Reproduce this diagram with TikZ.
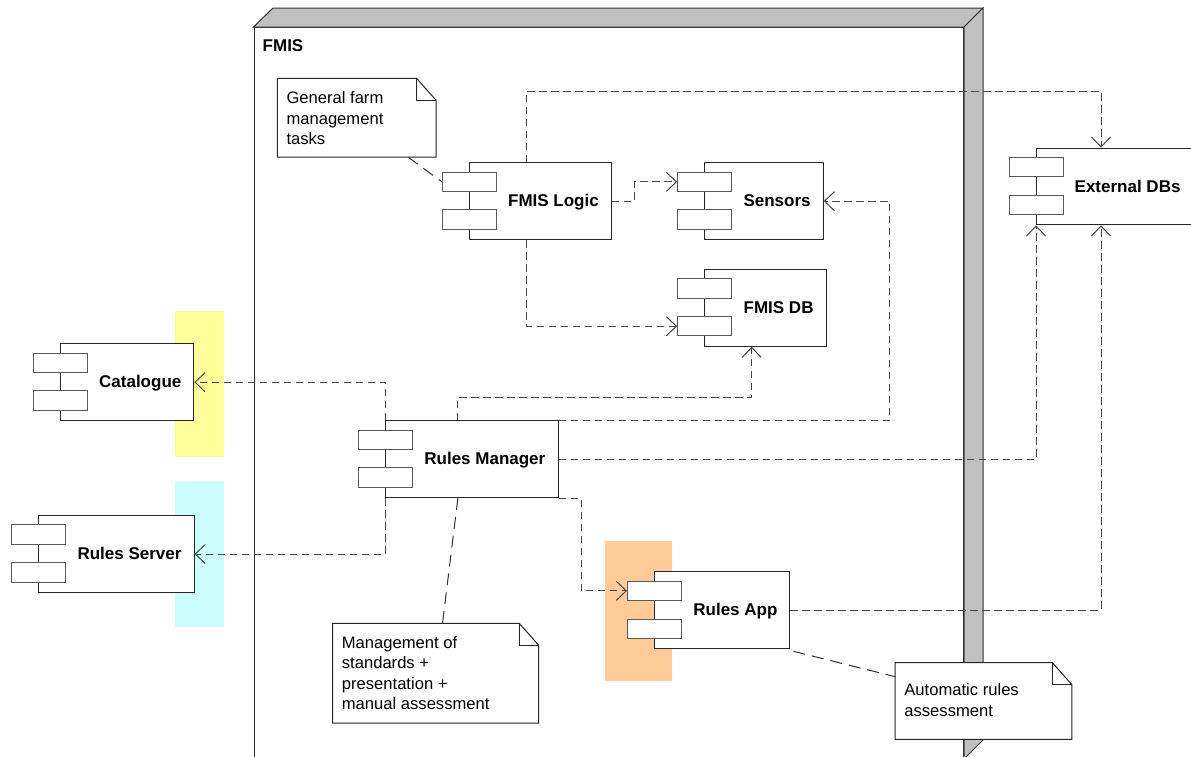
\documentclass[tikz,border=0pt]{standalone}
\usepackage{fontspec}
\setmainfont{Liberation Sans}
\usetikzlibrary{arrows.meta,calc}
\definecolor{cyel}{HTML}{FFFF99}
\definecolor{ccyan}{HTML}{CCFFFF}
\definecolor{corange}{HTML}{FFCC99}
\definecolor{cgrey}{HTML}{C0C0C0}
\newcommand{\umlcomp}[7][0]{%
  \pgfmathsetmacro{\cmpW}{#5-#3}%
  \pgfmathsetmacro{\cmpH}{#6-#4}%
  \pgfmathsetmacro{\cmpTx}{(#3+27.2+#5)/2+#1}%
  \pgfmathsetmacro{\cmpTy}{(#4+#6)/2+6}%
  \node[compbox, minimum width=\cmpW pt, minimum height=\cmpH pt] (#2) at (#3,#4) {};
  \node[smallbox] (#2-s1) at (#3-27.2,#4+9.4) {};
  \node[smallbox, anchor=south west] (#2-s2) at (#3-27.2,#6-9.4) {};
  \node[lbl] (#2-t) at (\cmpTx,\cmpTy) {#7};
}
\newcommand{\umlnote}[6]{%
  \pgfmathsetmacro{\cmpW}{#4-#2}%
  \pgfmathsetmacro{\cmpH}{#5-#3}%
  \node[notebox, minimum width=\cmpW pt, minimum height=\cmpH pt] (#1) at (#2,#3) {};
  \filldraw[noteline, fill=white] (#1.north west) -- ([xshift=-19.5pt]#1.north east) -- ([yshift=-22pt]#1.north east) -- (#1.south east) -- (#1.south west) -- cycle;
  \draw[noteline] ([xshift=-19.5pt]#1.north east) -- ([xshift=-19.5pt,yshift=-22pt]#1.north east) -- ([yshift=-22pt]#1.north east);
  \node[notetext] (#1-t) at ($(#1.north west)+(9,#6)$) {\notecontent};
}
\begin{document}
\begin{tikzpicture}[x=1pt,y=-1pt,
  compbox/.style={draw=black!85, fill=white, line width=1pt, inner sep=0pt, anchor=north west},
  smallbox/.style={draw=black!65, fill=white, line width=1pt, minimum width=54.3pt, minimum height=19.2pt, inner sep=0pt, anchor=north west},
  lbl/.style={font=\bfseries\fontsize{17}{20}\selectfont, anchor=base, inner sep=0pt},
  notebox/.style={draw=none, inner sep=0pt, anchor=north west},
  noteline/.style={draw=black!85, line width=1pt},
  notetext/.style={font=\fontsize{16.6}{20.5}\selectfont, align=left, anchor=north west, inner sep=0pt},
  dep/.style={draw=black!72, line width=1pt, dash pattern=on 7.5pt off 4.5pt, -{Straight Barb[length=10pt,width=19pt,line width=1pt]}},
  att/.style={draw=black!80, line width=1pt, dash pattern=on 12pt off 7pt},
  frame/.style={draw=black!80, line width=1pt}
]
\useasboundingbox (0,0) rectangle (1191,756);
% FMIS node frame
\node[frame, fill=white, minimum width=709.5pt, minimum height=731pt, inner sep=0pt, anchor=north west] (fmis) at (253.5,27) {};
\filldraw[frame, fill=cgrey] (fmis.north west) -- ++(19.5,-19) -- ($(fmis.north east)+(19,-19)$) -- (fmis.north east) -- cycle;
\filldraw[frame, fill=cgrey] (fmis.north east) -- ++(19,-19) -- ($(fmis.south east)+(19,-19)$) -- (fmis.south east) -- cycle;
\node[font=\bfseries\fontsize{17}{20}\selectfont, anchor=base west, inner sep=0pt] (fmis-t) at (262.5,51.7) {FMIS};
% coloured markers
\fill[cyel] (175,311) rectangle (224,457);
\fill[ccyan] (175,481) rectangle (224,627);
\fill[corange] (605,541) rectangle (671.5,681);
% components
\umlcomp{logic}{469}{162.3}{610.7}{239}{FMIS Logic}
\umlcomp{sensors}{704.3}{162.3}{822.7}{239}{Sensors}
\umlcomp{fmisdb}{704.3}{269}{825.7}{345.7}{FMIS DB}
\umlcomp[-2]{extdb}{1036}{147.7}{1196}{224.3}{External DBs}
\umlcomp{catalogue}{60}{343.3}{193.3}{420}{Catalogue}
\umlcomp{rserver}{38.3}{515}{193.5}{592}{Rules Server}
\umlcomp{rmanager}{385}{420.3}{557.5}{497}{Rules Manager}
\umlcomp{rapp}{654.2}{571.3}{789.4}{648.3}{Rules App}
% notes
\def\notecontent{General farm\\management\\tasks}
\umlnote{note1}{277.3}{78.3}{435.7}{156.7}{13}
\def\notecontent{Management of\\standards +\\presentation +\\manual assessment}
\umlnote{note2}{332.7}{623.3}{538.3}{722.7}{12.5}
\def\notecontent{Automatic rules\\assessment}
\umlnote{note3}{895.2}{662.7}{1071.5}{739}{21}
% dependency connectors
\coordinate (b1) at (526.7,91);
\coordinate (b1e) at (1101,91);
\draw[dep] (logic.north -| b1) -- (b1) -- (b1e) -- (extdb.north -| b1e);
\draw[dep] (logic.east) -- ++(22.6,0) |- (sensors-s1.west);
\draw[dep] (logic.south -| b1) |- (fmisdb-s2.west);
\coordinate (c4) at (457.9,397.7);
\coordinate (c4b) at (751.7,397.7);
\draw[dep] (rmanager.north -| c4) -- (c4) -- (c4b) -- (fmisdb.south -| c4b);
\coordinate (c5) at (889.5,420.3);
\draw[dep] (rmanager.north east) -- (c5) |- (sensors.east);
\draw[dep] (rmanager.east) -| (extdb.south west);
\draw[dep] (rmanager.south east) -- ++(22.5,0) |- (rapp-s1.west);
\draw[dep] (rmanager.north west) |- (catalogue.east);
\draw[dep] (rmanager.south west) |- (rserver.east);
\draw[dep] (rapp.east) -| (extdb.south -| b1e);
% note attachments
\draw[att] ($(note1.south west)+(130.7,0)$) -- (logic-s1.west);
\draw[att] ($(rmanager.south west)+(72.9,0)$) -- ($(note2.north west)+(109.8,0)$);
\draw[att] ($(rapp.south east)+(3,2)$) -- ($(note3.north west)+(0,14)$);
\end{tikzpicture}
\end{document}
